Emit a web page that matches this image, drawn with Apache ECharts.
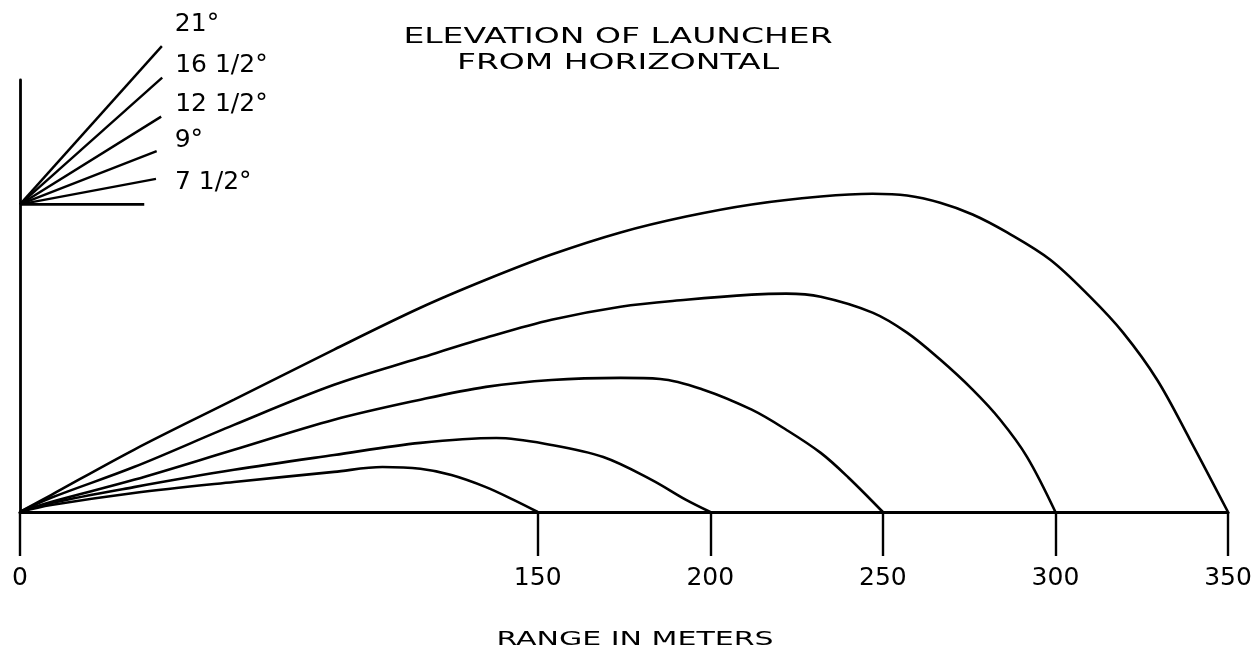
<!DOCTYPE html>
<html>
<head>
<meta charset="utf-8">
<script src="https://cdn.jsdelivr.net/npm/echarts@6/dist/echarts.min.js"></script>
<style>
  html, body { margin: 0; padding: 0; background: #fff; }
  #chart { width: 1260px; height: 669px; }
</style>
</head>
<body>
<div id="chart"></div>
<script>
// ranges in meters (x axis ticks)
const tickValues = [0, 150, 200, 250, 300, 350];
const angleLabels = ['7 1/2°', '9°', '12 1/2°', '16 1/2°', '21°'];

// trajectories (x = range, y = height, same units)
const x150 = [0, 9, 33, 62, 91, 105, 116, 125, 135, 143, 150];
const y150 = [0, 2, 5.5, 8.7, 11.6, 13, 12.5, 10.7, 7.2, 3.5, 0];

const x200 = [0, 9, 33, 62, 91, 116, 138, 154, 169, 183, 193, 200];
const y200 = [0, 2.6, 7.2, 12.2, 16.5, 20, 21.4, 19.4, 15.9, 9.3, 3.5, 0];

const x250 = [0, 9, 33, 62, 91, 116, 135, 154, 174, 185.5, 198, 212, 222, 232, 240, 250];
const y250 = [0, 2.9, 9.3, 18, 26.7, 32.5, 36.2, 38.2, 38.8, 38.5, 35.4, 29.6, 23.8, 17.1, 10, 0];

const x300 = [0, 9, 33, 62, 91, 116, 135, 154, 174, 193, 212, 222, 232, 247, 257, 266.6, 276, 284, 291.8, 300];
const y300 = [0, 4.1, 13, 25.2, 36.8, 44.6, 50.4, 55.6, 59.4, 61.4, 62.9, 63.2, 62.3, 57.7, 51.9, 44.1, 35.4, 26.7, 15.9, 0];

const x350 = [0, 9, 33, 62, 91, 116, 135, 154, 174, 193, 212, 232, 247, 257, 266.6, 276, 286, 298.5, 310, 319.6, 329.5, 339, 350];
const y350 = [0, 4.9, 18, 32.5, 47, 59.1, 67.2, 74.5, 80.9, 85.5, 89, 91.3, 92.1, 91.6, 89.5, 86.1, 80.9, 73, 62.3, 51.9, 38.2, 20.9, 0];

// little launcher sketch in the upper left
const insetOrigin = [0, 89];
const insetBaseEnd = [36, 89];
const insetEndX = [39.4, 39.6, 40.9, 41.2, 41.1];
const insetEndY = [96.4, 104.4, 114.4, 125.7, 134.8];

const curveX = [x150, x200, x250, x300, x350];
const curveY = [y150, y200, y250, y300, y350];

function pairs(xs, ys) {
	return xs.map(function (x, i) { return [x, ys[i]]; });
}

var myChart = echarts.init(document.getElementById('chart'));

var lineStyle = { color: '#000', width: 2.6 };
var labelOffsets = [[19, 4], [18, -11], [14, -12], [13, -12], [13, -22]];

var series = [];
curveX.forEach(function (xs, i) {
	series.push({
		name: String(tickValues[i + 1]),
		type: 'line',
		data: pairs(xs, curveY[i]),
		smooth: 0.35,
		showSymbol: false,
		lineStyle: lineStyle,
		silent: true
	});
});

// inset angle lines
angleLabels.forEach(function (lab, i) {
	series.push({
		name: lab,
		type: 'line',
		data: [insetOrigin, [insetEndX[i], insetEndY[i]]],
		showSymbol: false,
		clip: false,
		lineStyle: { color: '#000', width: 2.4 },
		silent: true,
		endLabel: {
			show: true,
			formatter: '{a}',
			distance: 0,
			offset: labelOffsets[i],
			color: '#000',
			fontSize: 25,
			fontFamily: 'DejaVu Sans'
		}
	});
});
series.push({
	name: 'base',
	type: 'line',
	data: [insetOrigin, insetBaseEnd],
	showSymbol: false,
	clip: false,
	lineStyle: { color: '#000', width: 2.8 },
	silent: true
});

var option = {
	animation: false,
	backgroundColor: '#fff',
	grid: {
		left: 20,
		right: 32,
		top: 80,
		bottom: 157,
		containLabel: false,
		outerBoundsMode: 'none'
	},
	xAxis: {
		type: 'value',
		min: 0,
		max: 350,
		splitLine: { show: false },
		axisLine: { show: true, lineStyle: { color: '#000', width: 3.2 } },
		axisTick: {
			show: true,
			customValues: tickValues,
			length: 44,
			lineStyle: { color: '#000', width: 2.4 }
		},
		axisLabel: {
			customValues: tickValues,
			margin: 54,
			color: '#000',
			fontSize: 25,
			fontFamily: 'DejaVu Sans'
		}
	},
	yAxis: {
		type: 'value',
		min: 0,
		max: 125,
		splitLine: { show: false },
		axisLine: { show: true, onZero: false, lineStyle: { color: '#000', width: 2.8 } },
		axisTick: { show: false },
		axisLabel: { show: false }
	},
	graphic: [{
		type: 'text',
		x: 618,
		y: 50,
		scaleX: 1.5,
		style: {
			text: 'ELEVATION OF LAUNCHER\nFROM HORIZONTAL',
			fill: '#000',
			font: '22px "DejaVu Sans"',
			lineHeight: 26,
			align: 'center',
			verticalAlign: 'middle'
		}
	}, {
		type: 'text',
		x: 635,
		y: 640,
		scaleX: 1.5,
		style: {
			text: 'RANGE IN METERS',
			fill: '#000',
			font: '20px "DejaVu Sans"',
			align: 'center',
			verticalAlign: 'middle'
		}
	}],
	series: series
};

myChart.setOption(option);
</script>
</body>
</html>
